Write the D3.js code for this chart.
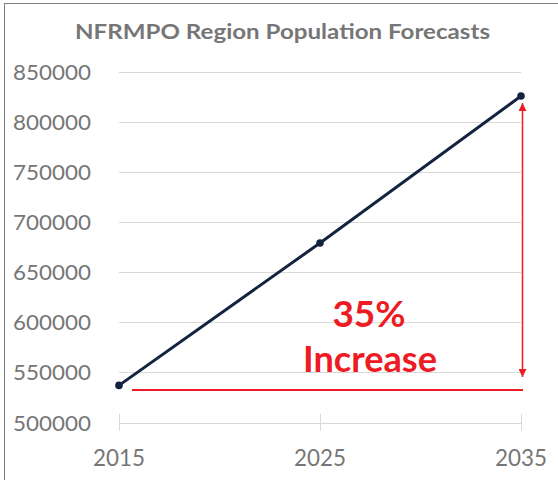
<!DOCTYPE html>
<html><head><meta charset="utf-8">
<script src="https://cdn.jsdelivr.net/npm/d3@7"></script>
<style>html,body{margin:0;padding:0;background:#fff;}svg{display:block;}</style>
</head><body>
<svg id="c" width="558" height="480"></svg>
<script>
const years = ["2015", "2025", "2035"];
const population = [537000, 679000, 825500];
const yTicks = [500000, 550000, 600000, 650000, 700000, 750000, 800000, 850000];
const title = "NFRMPO Region Population Forecasts";
const annotation = ["35%", "Increase"];

const svg = d3.select("#c");
const font = "Lato, 'Open Sans', sans-serif";
const grey = "#767676";
const red = "#ed1c24";

svg.append("rect").attr("x", 4.5).attr("y", 3.5).attr("width", 600).attr("height", 600)
  .attr("fill", "#fff").attr("stroke", "#7f7f7f").attr("stroke-width", 1);

const x = d3.scalePoint().domain(years).range([119, 521]);
const y = d3.scaleLinear().domain([500000, 850000]).range([422.5, 71.5]);

// gridlines
svg.append("g").selectAll("line").data(yTicks).join("line")
  .attr("x1", 119).attr("x2", 521)
  .attr("y1", d => Math.round(y(d)) + 0.5).attr("y2", d => Math.round(y(d)) + 0.5)
  .attr("stroke", "#d9d9d9").attr("stroke-width", 1);

// category tick marks (cross)
svg.append("g").selectAll("line").data(years).join("line")
  .attr("x1", d => Math.round(x(d)) + 0.5).attr("x2", d => Math.round(x(d)) + 0.5)
  .attr("y1", y(500000) - 8.5).attr("y2", y(500000) + 8.5)
  .attr("stroke", "#d9d9d9").attr("stroke-width", 1);

// y labels
svg.append("g").selectAll("text").data(yTicks).join("text")
  .attr("x", 91).attr("y", d => y(d) + 8)
  .attr("text-anchor", "end").attr("font-family", font).attr("font-size", 22)
  .attr("fill", grey).attr("textLength", 78).attr("lengthAdjust", "spacingAndGlyphs")
  .text(d => d);

// x labels
svg.append("g").selectAll("text").data(years).join("text")
  .attr("x", d => x(d)).attr("y", 466)
  .attr("text-anchor", "middle").attr("font-family", font).attr("font-size", 23)
  .attr("fill", grey).attr("textLength", 52).attr("lengthAdjust", "spacingAndGlyphs")
  .text(d => d);

// title
svg.append("text").attr("x", 75).attr("y", 38.5)
  .attr("font-family", font).attr("font-size", 20).attr("font-weight", "bold")
  .attr("fill", grey).attr("textLength", 415).attr("lengthAdjust", "spacingAndGlyphs")
  .text(title);

// red annotation
const defs = svg.append("defs");
defs.append("marker").attr("id", "ah").attr("viewBox", "0 0 10 10")
  .attr("refX", 10).attr("refY", 5).attr("markerWidth", 8).attr("markerHeight", 8)
  .attr("markerUnits", "userSpaceOnUse").attr("orient", "auto-start-reverse")
  .append("path").attr("d", "M0,0 L10,5 L0,10 z").attr("fill", red);

const x35 = x("2035") + 1.5;
svg.append("line").attr("x1", 132).attr("x2", x35 + 0.5)
  .attr("y1", 390).attr("y2", 390).attr("stroke", red).attr("stroke-width", 2);
svg.append("line").attr("x1", x35).attr("x2", x35)
  .attr("y1", 103).attr("y2", 377)
  .attr("stroke", red).attr("stroke-width", 1.5)
  .attr("marker-start", "url(#ah)").attr("marker-end", "url(#ah)");

svg.append("text").attr("x", 369).attr("y", 327)
  .attr("text-anchor", "middle").attr("font-family", font).attr("font-size", 37)
  .attr("font-weight", "bold").attr("fill", red).text(annotation[0]);
svg.append("text").attr("x", 370).attr("y", 372)
  .attr("text-anchor", "middle").attr("font-family", font).attr("font-size", 37)
  .attr("font-weight", "bold").attr("fill", red)
  .attr("textLength", 134).attr("lengthAdjust", "spacingAndGlyphs").text(annotation[1]);

// line + markers
const line = d3.line().x((d, i) => x(years[i])).y(d => y(d));
svg.append("path").datum(population).attr("d", line)
  .attr("fill", "none").attr("stroke", "#14233f").attr("stroke-width", 3);
svg.append("g").selectAll("circle").data(population).join("circle")
  .attr("cx", (d, i) => x(years[i])).attr("cy", d => y(d)).attr("r", 3.8)
  .attr("fill", "#14233f");
</script>
</body></html>
